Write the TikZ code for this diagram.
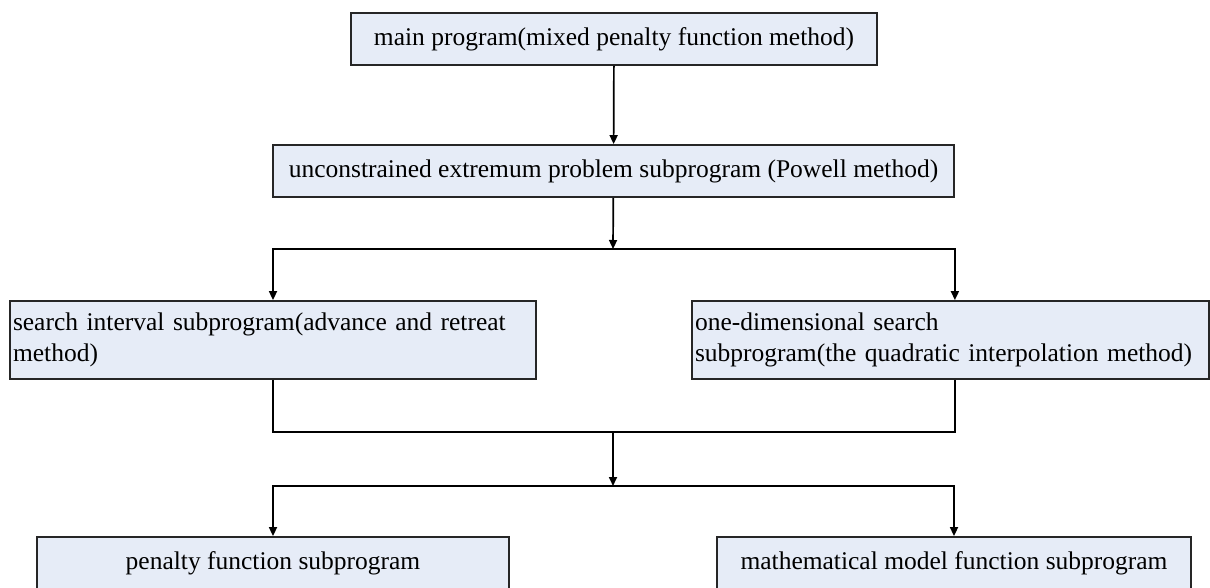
\documentclass[tikz,border=0pt]{standalone}
\usepackage{fontspec}
\setmainfont{Liberation Serif}
\usetikzlibrary{arrows.meta,positioning}
\definecolor{progfill}{RGB}{230,236,247}

\tikzset{
	prog/.style={draw=black!85, line width=1.8pt, fill=progfill, inner xsep=3pt,
		inner ysep=0pt, font=\fontsize{25.5}{31}\selectfont},
	link/.style={line width=1.7pt, -{Triangle[length=9pt,width=8pt]}},
	bare/.style={line width=1.7pt},
}

\begin{document}
\begin{tikzpicture}[x=1pt,y=-1pt]
		% canvas
		\useasboundingbox (0,0) rectangle (1210,588);
		
		% boxes
		\node[prog, minimum width=526, minimum height=52] (main) at (614,39)
		{main program(mixed penalty function method)};
		
		\node[prog, minimum width=681, minimum height=52] (uncon) at (613.5,171)
		{unconstrained extremum problem subprogram (Powell method)};
		
		\node[prog, text width=520, minimum height=78, align=left] (search) at (273,340)
		{search interval subprogram(advance and retreat\\method)};
		
		\node[prog, text width=511, minimum height=78, align=left] (onedim) at (950.5,340)
		{one-dimensional search\\subprogram(the quadratic interpolation method)};
		
		\node[prog, minimum width=472, minimum height=52] (penalty) at (273,563)
		{penalty function subprogram};
		
		\node[prog, minimum width=474, minimum height=52] (model) at (954,563)
		{mathematical model function subprogram};
		
		% junctions
		\coordinate (split) at (613,249);
		\coordinate (merge) at (613,432);
		\coordinate (fork) at (613,486);
		
		% connectors
		\draw[link] (main) -- (uncon);
		\draw[link] (uncon) -- (split);
		\draw[link] (split) -| (search.north);
		\draw[link] (split) -| (onedim.north -| uncon.east);
		
		\draw[bare] (search.south) |- (merge);
		\draw[bare] (onedim.south -| uncon.east) |- (merge);
		\draw[link] (merge) -- (fork);
		\draw[link] (fork) -| (penalty.north);
		\draw[link] (fork) -| (model.north);
		
	\end{tikzpicture}
\end{document}
